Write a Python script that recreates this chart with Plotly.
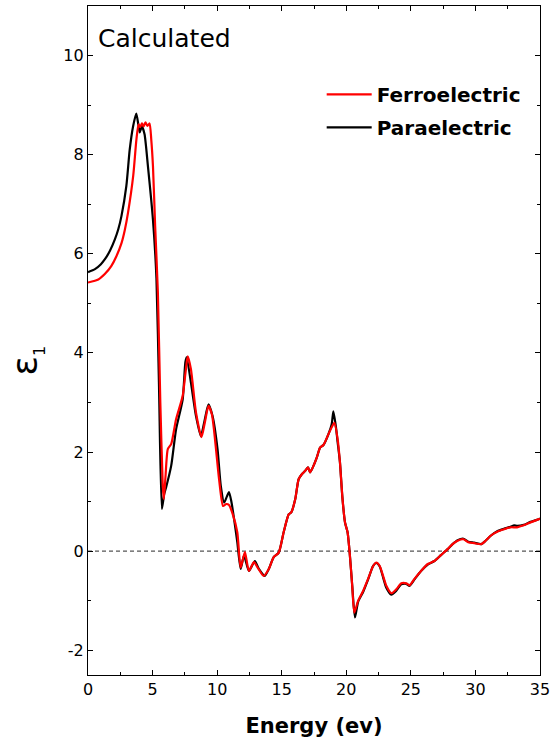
import plotly.graph_objects as go

# Real part of the dielectric function, paraelectric phase
para_energy = [0, 0.54, 1.0, 1.31, 1.7, 2.08, 2.35, 2.59, 2.97, 3.23, 3.49, 3.74, 3.9,
               4.0, 4.18, 4.38, 4.64, 5.03, 5.3, 5.5, 5.72, 5.9, 6.05,
               6.44, 6.82, 7.33, 7.54, 7.64, 7.97, 8.36, 8.74, 9.0, 9.33,
               9.64, 10.03, 10.28, 10.54, 10.75, 10.92, 11.1, 11.31, 11.56, 11.82,
               12.08, 12.46, 12.92, 13.23, 13.69, 14.0, 14.38, 14.77, 15.15, 15.54,
               15.74, 16.05, 16.31, 16.56, 16.82, 17.03, 17.2, 17.46, 17.72, 17.97,
               18.23, 18.62, 18.87, 19.0, 19.2, 19.33, 19.51, 19.69, 19.9, 20.1,
               20.28, 20.46, 20.67, 20.92, 21.31, 21.69, 22.08, 22.33, 22.59, 22.85,
               23.1, 23.49, 23.87, 24.26, 24.64, 24.9, 25.28, 25.79, 26.31, 26.82,
               27.33, 27.85, 28.23, 28.62, 29.08, 29.44, 29.9, 30.46, 30.79, 31.18,
               31.69, 32.21, 32.72, 33.0, 33.23, 33.74, 34.26, 34.77, 35.0]
para_eps1 = [5.63, 5.69, 5.79, 5.89, 6.06, 6.29, 6.5, 6.76, 7.37, 8.1, 8.57, 8.83, 8.6,
             8.45, 8.57, 8.41, 7.77, 6.69, 5.5, 3.3, 0.85, 1.15, 1.29,
             1.72, 2.46, 3.06, 3.81, 3.91, 3.4, 2.73, 2.32, 2.6, 2.96,
             2.73, 2.06, 1.32, 0.98, 1.1, 1.19, 1.0, 0.65, 0.18, -0.36,
             -0.09, -0.40, -0.2, -0.36, -0.5, -0.36, -0.12, -0.03, 0.38, 0.74,
             0.78, 1.05, 1.45, 1.55, 1.62, 1.69, 1.59, 1.72, 1.89, 2.09,
             2.14, 2.36, 2.56, 2.82, 2.5, 2.2, 1.79, 1.11, 0.58, 0.38,
             -0.09, -0.7, -1.34, -1.02, -0.82, -0.57, -0.3, -0.24, -0.31, -0.53,
             -0.74, -0.88, -0.8, -0.67, -0.66, -0.7, -0.57, -0.4, -0.27, -0.2,
             -0.08, 0.04, 0.14, 0.22, 0.25, 0.19, 0.17, 0.14, 0.21, 0.31,
             0.4, 0.45, 0.49, 0.52, 0.51, 0.53, 0.59, 0.63, 0.66]

# Real part of the dielectric function, ferroelectric phase
ferro_energy = [0, 0.8, 1.3, 1.8, 2.2, 2.6, 2.85, 3.1, 3.5, 3.75, 3.92, 4.05, 4.18,
                4.3, 4.45, 4.6, 4.77, 4.9, 5.03, 5.2, 5.41, 5.6, 5.79,
                5.87, 6.0, 6.18, 6.44, 6.82, 7.33, 7.55, 7.72, 7.97, 8.36,
                8.79, 9.05, 9.33, 9.6, 10.15, 10.46, 10.7, 10.92, 11.2, 11.56,
                11.82, 12.15, 12.46, 12.85, 13.2, 13.6, 14.0, 14.38, 14.77, 15.15,
                15.54, 15.74, 16.05, 16.31, 16.56, 16.82, 17.03, 17.2, 17.46, 17.72,
                17.97, 18.23, 18.62, 18.87, 19.08, 19.33, 19.51, 19.69, 19.9, 20.1,
                20.28, 20.46, 20.62, 20.92, 21.31, 21.69, 22.08, 22.33, 22.59, 22.85,
                23.1, 23.49, 23.87, 24.26, 24.64, 24.9, 25.28, 25.79, 26.31, 26.82,
                27.33, 27.85, 28.23, 28.62, 29.08, 29.44, 29.9, 30.46, 30.79, 31.18,
                31.69, 32.21, 32.72, 33.23, 33.74, 34.26, 34.77, 35.0]
ferro_eps1 = [5.42, 5.48, 5.59, 5.75, 5.95, 6.22, 6.48, 6.83, 7.57, 8.31, 8.61, 8.56, 8.63,
              8.57, 8.65, 8.58, 8.63, 8.3, 7.77, 6.56, 5.22, 3.0, 1.32,
              1.05, 1.5, 2.06, 2.16, 2.66, 3.13, 3.6, 3.93, 3.67, 2.8,
              2.3, 2.6, 2.93, 2.75, 1.45, 0.91, 0.95, 0.93, 0.75, 0.38,
              -0.33, -0.02, -0.4, -0.22, -0.36, -0.5, -0.36, -0.12, -0.03, 0.38,
              0.74, 0.78, 1.05, 1.45, 1.55, 1.62, 1.69, 1.59, 1.72, 1.89,
              2.09, 2.14, 2.36, 2.5, 2.59, 2.26, 1.79, 1.11, 0.58, 0.38,
              -0.09, -0.7, -1.24, -1.0, -0.8, -0.56, -0.3, -0.23, -0.3, -0.5,
              -0.7, -0.85, -0.77, -0.65, -0.65, -0.69, -0.56, -0.4, -0.26, -0.2,
              -0.08, 0.04, 0.14, 0.21, 0.24, 0.18, 0.16, 0.14, 0.21, 0.31,
              0.39, 0.44, 0.48, 0.48, 0.52, 0.58, 0.63, 0.65]

# y tick labels with a plain hyphen for negatives
y_tickvals = [-2, 0, 2, 4, 6, 8, 10]
y_ticktext = ["-2", "0", "2", "4", "6", "8", "10"]

FONT = "DejaVu Sans"

fig = go.Figure()
fig.add_trace(go.Scatter(
    x=para_energy, y=para_eps1, mode="lines", name="Paraelectric",
    line=dict(color="#000000", width=2.2, shape="spline", smoothing=0.6),
    legendrank=2, legendgroup="p",
))
fig.add_trace(go.Scatter(
    x=ferro_energy, y=ferro_eps1, mode="lines", name="Ferroelectric",
    line=dict(color="#FF0000", width=2.2, shape="spline", smoothing=0.6),
    legendrank=1, legendgroup="f",
))

# zero reference line
fig.add_shape(type="line", xref="paper", x0=0, x1=1, yref="y", y0=0, y1=0,
              line=dict(color="#555555", width=1.3, dash="4px,3px"), layer="below")

fig.add_annotation(text="Calculated", xref="paper", yref="paper",
                   x=0.018, y=0.951, xanchor="left", yanchor="middle",
                   showarrow=False, font=dict(family=FONT, size=25, color="#000"))

# y-axis label (rotated), with a small subscript
fig.add_annotation(text="ε<sub><span style='font-size:16px'>1</span></sub>",
                   xref="paper", yref="paper", x=-0.135, y=0.47,
                   xanchor="center", yanchor="middle", textangle=-90,
                   showarrow=False, font=dict(family=FONT, size=36, color="#000"))

axis_common = dict(
    showline=True, linecolor="#000", linewidth=1.3, mirror="ticks",
    ticks="inside", ticklen=5, tickwidth=1.2, tickcolor="#000",
    showgrid=False, zeroline=False,
    tickfont=dict(family=FONT, size=16, color="#000"),
)

fig.update_xaxes(
    range=[0, 35], tick0=0, dtick=5,
    minor=dict(dtick=2.5, ticks="inside", ticklen=3, tickcolor="#000"),
    title=dict(text="<b>Energy (ev)</b>", font=dict(family=FONT, size=21, color="#000"),
               standoff=19),
    **axis_common,
)
fig.update_yaxes(
    range=[-2.5, 11], tickmode="array", tickvals=y_tickvals, ticktext=y_ticktext,
    minor=dict(dtick=1, tick0=0, ticks="inside", ticklen=3, tickcolor="#000"),
    **axis_common,
)

fig.update_layout(
    width=555, height=743,
    margin=dict(l=88, r=12, t=5, b=68),
    paper_bgcolor="#FFFFFF", plot_bgcolor="#FFFFFF",
    showlegend=True,
    legend=dict(x=0.517, y=0.897, xanchor="left", yanchor="top",
                bgcolor="rgba(0,0,0,0)", borderwidth=0,
                font=dict(family=FONT, size=20, color="#000", weight="bold"),
                tracegroupgap=4, itemwidth=45),
)

fig.write_html("out.html")
